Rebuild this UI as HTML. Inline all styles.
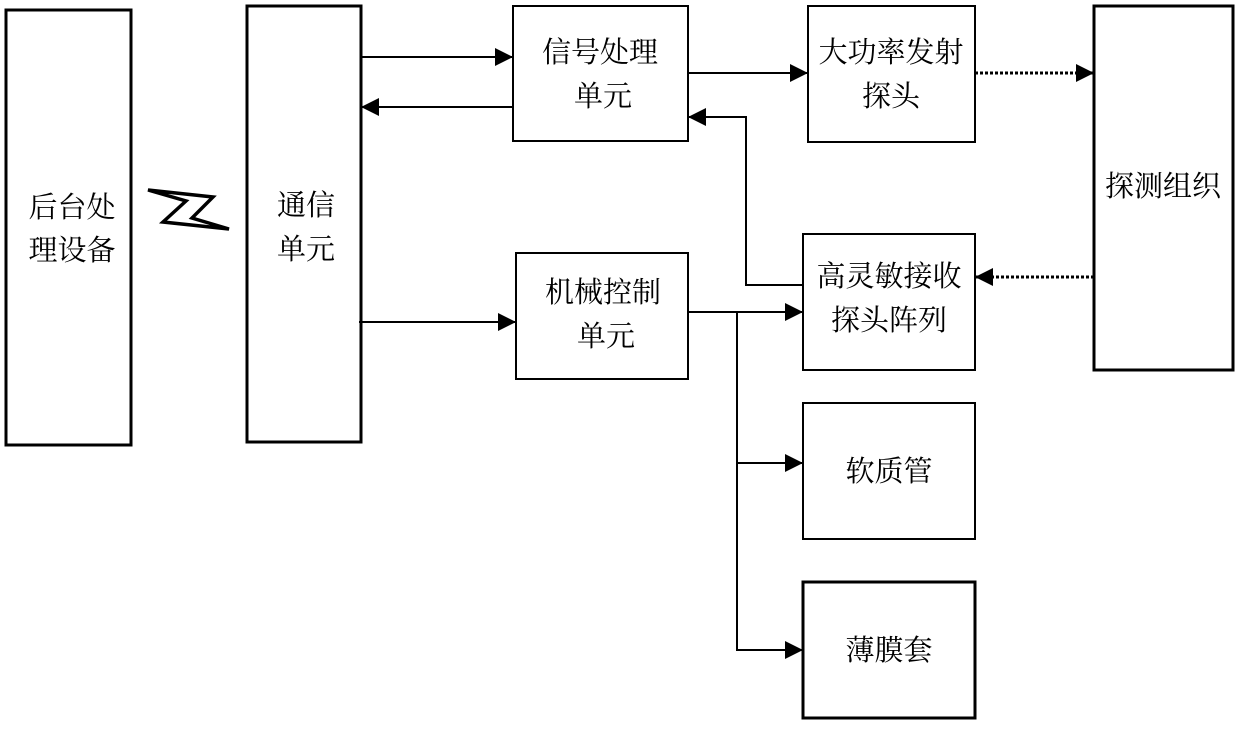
<!DOCTYPE html>
<html><head><meta charset="utf-8"><style>
html,body{margin:0;padding:0;background:#fff;}
svg text{font-family:"Liberation Serif","Noto Serif CJK SC","Noto Sans CJK SC",serif;font-size:29px;fill:#000;text-anchor:middle;}
</style></head><body>
<svg width="1240" height="725" viewBox="0 0 1240 725" xmlns="http://www.w3.org/2000/svg">
<defs>
<marker id="b" markerWidth="18" markerHeight="18" refX="18" refY="9" orient="auto" markerUnits="userSpaceOnUse" viewBox="0 0 18 18"><path d="M0,0 L18,9 L0,18 z" fill="#000"/></marker>
</defs>
<g fill="none" stroke="#000">
<rect x="6" y="10" width="125" height="435" stroke-width="3"/>
<rect x="247" y="6" width="114" height="436" stroke-width="3"/>
<rect x="513" y="6" width="175" height="135" stroke-width="2"/>
<rect x="516" y="253" width="172" height="126" stroke-width="2"/>
<rect x="808" y="6" width="167" height="136" stroke-width="2"/>
<rect x="1094" y="6" width="139" height="364" stroke-width="3"/>
<rect x="803" y="234" width="172" height="136" stroke-width="2"/>
<rect x="803" y="403" width="172" height="136" stroke-width="2"/>
<rect x="803" y="582" width="172" height="136" stroke-width="3"/>
<polygon points="148,190 213,197 192,218 229,229 163,222 186,201" stroke-width="3.5" stroke-linejoin="miter"/>
<g stroke-width="2" marker-end="url(#b)">
<line x1="361" y1="57" x2="513" y2="57"/>
<line x1="513" y1="107" x2="361" y2="107"/>
<line x1="359" y1="322" x2="516" y2="322"/>
<line x1="688" y1="73" x2="808" y2="73"/>
<polyline points="803,285 746,285 746,117 688,117"/>
<line x1="688" y1="312" x2="803" y2="312"/>
<polyline points="737,312 737,463 803,463"/>
<polyline points="737,312 737,650 803,650"/>
</g>
<g stroke-width="3" stroke-dasharray="3,2" marker-end="url(#b)">
<line x1="975" y1="73" x2="1094" y2="73"/>
<line x1="1094" y1="277" x2="975" y2="277"/>
</g>
</g>
<text x="72" y="217">后台处</text>
<text x="72" y="260">理设备</text>
<text x="306" y="215">通信</text>
<text x="306" y="259">单元</text>
<text x="600" y="62">信号处理</text>
<text x="603" y="106">单元</text>
<text x="603" y="302">机械控制</text>
<text x="606" y="346">单元</text>
<text x="891" y="62">大功率发射</text>
<text x="891" y="106">探头</text>
<text x="1163" y="196">探测组织</text>
<text x="889" y="286">高灵敏接收</text>
<text x="889" y="330">探头阵列</text>
<text x="889" y="481">软质管</text>
<text x="889" y="660">薄膜套</text>
</svg>
</body></html>
